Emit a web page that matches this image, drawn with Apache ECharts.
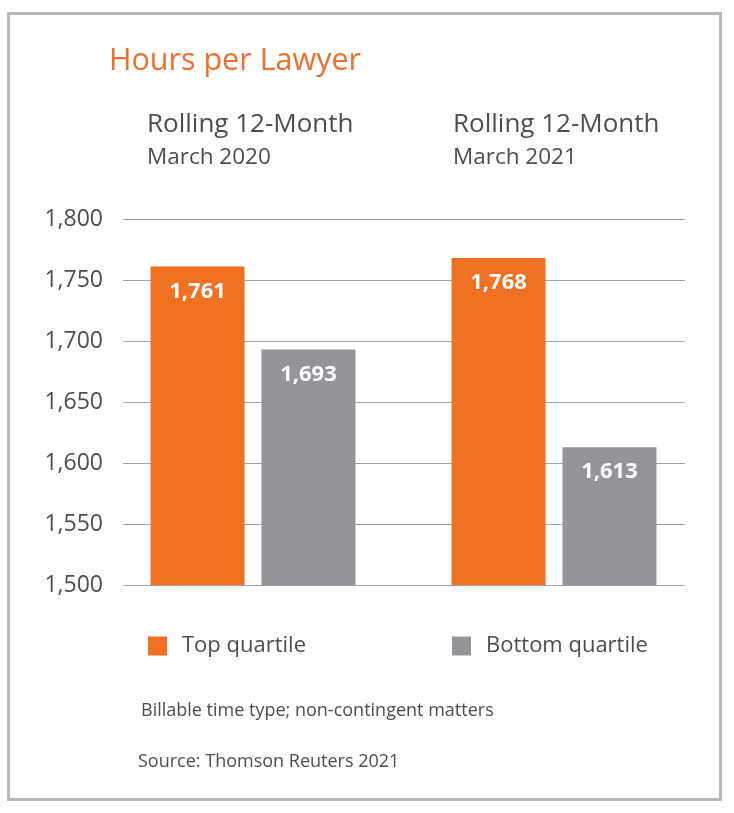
<!DOCTYPE html>
<html>
<head>
<meta charset="utf-8">
<script src="https://cdn.jsdelivr.net/npm/echarts@6/dist/echarts.min.js"></script>
<style>
html,body{margin:0;padding:0;background:#fff;}
#chart{width:734px;height:813px;}
</style>
</head>
<body>
<div id="chart"></div>
<script>
const categories = ['March 2020', 'March 2021'];
const topQuartile = [1761, 1768];
const bottomQuartile = [1693, 1613];
const seriesNames = ['Top quartile', 'Bottom quartile'];
const yTicks = [1500, 1550, 1600, 1650, 1700, 1750, 1800];

const FONT = '"Open Sans", "Noto Sans", sans-serif';
const ORANGE = '#f07122';
const GRAY = '#939598';
const TEXT = '#4d4d4f';

const chart = echarts.init(document.getElementById('chart'));
const fmt = v => v.toLocaleString('en-US');

chart.setOption({
  backgroundColor: '#ffffff',
  animation: false,
  textStyle: { fontFamily: FONT },
  graphic: [{
    type: 'rect',
    shape: { x: 8.5, y: 13.5, width: 712, height: 786 },
    style: { fill: 'none', stroke: '#b8b8b8', lineWidth: 3 },
    silent: true
  }],
  title: [
    { text: 'Hours per Lawyer', left: 104, top: 41, textStyle: { color: '#ee6f2d', fontSize: 30.5, fontWeight: 'normal', fontFamily: FONT } },
    { text: 'Rolling 12-Month', left: 142, top: 107, textStyle: { color: TEXT, fontSize: 26, fontWeight: 'normal', fontFamily: FONT } },
    { text: categories[0], left: 142, top: 141, textStyle: { color: TEXT, fontSize: 22.5, fontWeight: 'normal', fontFamily: FONT } },
    { text: 'Rolling 12-Month', left: 448, top: 107, textStyle: { color: TEXT, fontSize: 26, fontWeight: 'normal', fontFamily: FONT } },
    { text: categories[1], left: 448, top: 141, textStyle: { color: TEXT, fontSize: 22.5, fontWeight: 'normal', fontFamily: FONT } },
    { text: 'Billable time type; non-contingent matters', left: 136, top: 697, textStyle: { color: TEXT, fontSize: 18, fontWeight: 'normal', fontFamily: FONT } },
    { text: 'Source: Thomson Reuters 2021', left: 133, top: 748, textStyle: { color: TEXT, fontSize: 18, fontWeight: 'normal', fontFamily: FONT } }
  ],
  legend: [
    { data: [seriesNames[0]], left: 143, top: 630, icon: 'rect', itemWidth: 19, itemHeight: 19, itemGap: 0,
      textStyle: { color: TEXT, fontSize: 22, fontFamily: FONT, padding: [0, 0, 0, 10] } },
    { data: [seriesNames[1]], left: 447, top: 630, icon: 'rect', itemWidth: 19, itemHeight: 19, itemGap: 0,
      textStyle: { color: TEXT, fontSize: 22, fontFamily: FONT, padding: [0, 0, 0, 10] } }
  ],
  grid: [
    { left: 123, right: 49, top: 219, bottom: 228 },
    { left: 102.5, right: 29.5, top: 219, bottom: 228 }
  ],
  xAxis: [
    { type: 'category', gridIndex: 0, data: categories, show: false },
    { type: 'category', gridIndex: 1, data: categories, show: false }
  ],
  yAxis: [
    { type: 'value', gridIndex: 0, min: yTicks[0], max: yTicks[yTicks.length - 1], interval: 50,
      axisLine: { show: false }, axisTick: { show: false },
      axisLabel: { color: TEXT, fontSize: 23, fontFamily: FONT, margin: 20, formatter: fmt, padding: [0, 0, 3, 0] },
      splitLine: { lineStyle: { color: '#a3a3a3', width: 1 } } },
    { type: 'value', gridIndex: 1, min: yTicks[0], max: yTicks[yTicks.length - 1], interval: 50, show: false,
      splitLine: { show: false } }
  ],
  series: [
    { name: seriesNames[0], type: 'bar', xAxisIndex: 1, yAxisIndex: 1, data: topQuartile,
      barWidth: 94, barGap: '18%', itemStyle: { color: ORANGE },
      label: { show: true, position: 'insideTop', distance: 14, color: '#fff', fontSize: 22, fontWeight: 'bold', fontFamily: FONT, formatter: p => fmt(p.value) } },
    { name: seriesNames[1], type: 'bar', xAxisIndex: 1, yAxisIndex: 1, data: bottomQuartile,
      barWidth: 94, barGap: '18%', itemStyle: { color: GRAY },
      label: { show: true, position: 'insideTop', distance: 14, color: '#fff', fontSize: 22, fontWeight: 'bold', fontFamily: FONT, formatter: p => fmt(p.value) } }
  ]
});
</script>
</body>
</html>
